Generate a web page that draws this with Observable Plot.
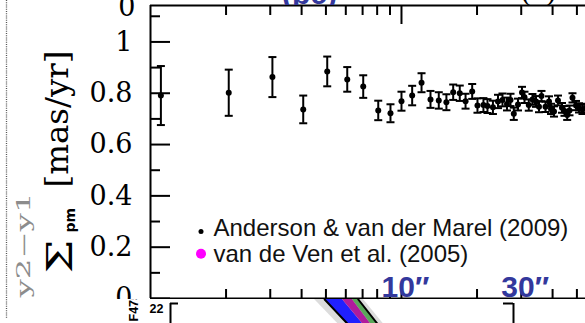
<!DOCTYPE html>
<html>
<head>
<meta charset="utf-8">
<script src="https://cdn.jsdelivr.net/npm/d3@7"></script>
<script src="https://cdn.jsdelivr.net/npm/@observablehq/plot@0.6"></script>
<style>
  html, body { margin: 0; padding: 0; background: #fff; }
  #wrap { position: relative; width: 585px; height: 323px; overflow: hidden; background: #fff; }
  #wrap svg { position: absolute; display: block; }
  .strip { position: absolute; left: 0; top: 0; width: 585px; height: 5px; overflow: hidden; }
  .strip span { position: absolute; white-space: pre; line-height: 30px; font-size: 30px; }
</style>
</head>
<body>
<div id="wrap"></div>
<script>
// Proper-motion dispersion profile, Anderson & van der Marel (2009)
// radius in arcsec, dispersion and 1-sigma error in mas/yr
const radius = [1.10, 2.05, 3.06, 4.06, 5.06, 6.08, 7.04, 8.08, 9.04, 10.0,
  11.03, 12.02, 13.05, 14.08, 15.1, 16.07, 17.07, 18.0, 19.13, 20.08,
  21.21, 22.01, 23.14, 24.24, 25.26, 26.33, 27.19, 28.02, 29.12, 30.21,
  30.91, 32.15, 33.26, 34.35, 35.31, 36.13, 37.48, 38.71, 39.42, 40.52,
  42.03, 43.60, 44.61, 45.73, 46.71, 48.01, 49.58, 50.96, 52.62, 54.09];
const sigma = [0.791, 0.802, 0.863, 0.737, 0.885, 0.854, 0.826, 0.733, 0.722, 0.769,
  0.791, 0.841, 0.776, 0.772, 0.765, 0.804, 0.800, 0.769, 0.807, 0.752,
  0.754, 0.750, 0.745, 0.768, 0.774, 0.758, 0.774, 0.720, 0.756, 0.803,
  0.784, 0.754, 0.776, 0.768, 0.747, 0.789, 0.747, 0.768, 0.739, 0.729,
  0.772, 0.743, 0.731, 0.715, 0.733, 0.782, 0.752, 0.743, 0.737, 0.741];
const sigmaErr = [0.115, 0.090, 0.078, 0.054, 0.058, 0.048, 0.044, 0.038, 0.035, 0.037,
  0.038, 0.037, 0.033, 0.032, 0.031, 0.030, 0.030, 0.029, 0.029, 0.028,
  0.027, 0.027, 0.026, 0.026, 0.025, 0.025, 0.024, 0.024, 0.023, 0.022,
  0.022, 0.022, 0.021, 0.021, 0.021, 0.020, 0.020, 0.020, 0.020, 0.020,
  0.019, 0.019, 0.019, 0.019, 0.019, 0.018, 0.018, 0.018, 0.018, 0.018];

// axes
const xDomain = [1, 54.1];
const yDomain = [0, 1.142];
const yMajorTicks = [0, 0.2, 0.4, 0.6, 0.8, 1];
const yTickLabels = ["0", "0.2", "0.4", "0.6", "0.8", "1"];
const yMinorTicks = [0.1, 0.3, 0.5, 0.7, 0.9, 1.1];
const xMinorTicks = [2, 3, 4, 5, 6, 7, 8, 9, 20, 30, 40, 50];
const xMajorTicks = [10];

// shell annotations along the radius axis
const shellRadii = [10, 30];
const shellLabels = ["10\u2033", "30\u2033"];

// legend
const legendLabels = ["Anderson & van der Marel (2009)", "van de Ven et al. (2005)"];
const legendColors = ["#000000", "#ff00ff"];
const legendRadii = [2.5, 5];

// colour-magnitude strip of the panel below
const cmdMag = [21.8, 23.0];
const cmdHaloBlue = [0.68, 0.95];
const cmdBlueEdge = [0.798, 1.061];
const cmdMagentaStart = [1.006, 1.239];
const cmdGreenStart = [1.122, 1.332];
const cmdRedEdge = [1.19, 1.411];
const cmdHaloRed = [1.25, 1.48];
const cmdTicks = [22];

const rows = radius.map((r, i) => ({r, s: sigma[i], e: sigmaErr[i]}));

const capSymbol = {
  draw(context, size) {
    const h = Math.sqrt(size / Math.PI);
    context.moveTo(-h, 0);
    context.lineTo(h, 0);
  }
};

const W = 585, H = 323;
const mL = 150, mR = 0, mT = 5, mB = 25;
const innerW = W - mL - mR, innerH = H - mT - mB;
const serif = "DejaVu Serif";
const sans = "Liberation Sans";
const ink = "#000";
const shellBlue = "#33389c";

const legendMarks = legendLabels.flatMap((label, i) => [
  Plot.dot([label], {frameAnchor: "bottom-left", dx: 50.5, dy: i === 0 ? -67 : -44.7,
    r: legendRadii[i], fill: legendColors[i], stroke: "none"}),
  Plot.text([label], {frameAnchor: "bottom-left", dx: 63, dy: i === 0 ? -62.3 : -37,
    text: d => d, textAnchor: "start", lineAnchor: "bottom",
    fontFamily: sans, fontSize: 24, fill: "#111"})
]);

const main = Plot.plot({
  width: W, height: H,
  marginLeft: mL, marginRight: mR, marginTop: mT, marginBottom: mB,
  x: {type: "log", domain: xDomain, axis: null},
  y: {domain: yDomain, axis: null},
  style: {background: "transparent"},
  marks: [
    // frame edges
    Plot.ruleX(xDomain.slice(0, 1), {stroke: ink, strokeWidth: 2}),
    Plot.ruleY(yDomain, {stroke: ink, strokeWidth: 2}),
    // inward ticks
    Plot.tickY(yMajorTicks, {y: d => d, insetRight: innerW - 20, stroke: ink, strokeWidth: 2}),
    Plot.tickY(yMinorTicks, {y: d => d, insetRight: innerW - 10, stroke: ink, strokeWidth: 2}),
    Plot.tickX(xMinorTicks, {x: d => d, insetBottom: innerH - 10, stroke: ink, strokeWidth: 2}),
    Plot.tickX(xMajorTicks, {x: d => d, insetBottom: innerH - 19, stroke: ink, strokeWidth: 2}),
    Plot.tickX(xMinorTicks.concat(xMajorTicks), {x: d => d, insetTop: innerH - 9, stroke: ink, strokeWidth: 2}),
    // tick labels
    Plot.text(yMajorTicks, {y: d => d, text: yTickLabels, frameAnchor: "left", dx: -18,
      textAnchor: "end", lineAnchor: "middle", fontFamily: serif, fontSize: 27, fill: ink}),
    Plot.text(["0"], {frameAnchor: "top-left", dx: -15, dy: 10, textAnchor: "end", lineAnchor: "bottom",
      fontFamily: serif, fontSize: 27, fill: ink}),
    // axis title
    Plot.text(["\u03A3"], {frameAnchor: "bottom-left", dx: -79, dy: -25, rotate: -90,
      textAnchor: "start", lineAnchor: "bottom", fontFamily: serif, fontSize: 36, fill: ink}),
    Plot.text(["pm"], {frameAnchor: "bottom-left", dx: -76, dy: -66, rotate: -90,
      textAnchor: "start", lineAnchor: "bottom", fontFamily: "DejaVu Sans", fontWeight: "bold",
      fontSize: 14, fill: ink}),
    Plot.text(["[mas/yr]"], {frameAnchor: "bottom-left", dx: -83, dy: -111, rotate: -90,
      textAnchor: "start", lineAnchor: "bottom", fontFamily: serif, fontSize: 32, fill: ink}),
    Plot.text(["y2\u2212y1"], {frameAnchor: "bottom-left", dx: -121, dy: -1, rotate: -90,
      textAnchor: "start", lineAnchor: "bottom", fontFamily: serif, fontSize: 18, fill: "#8c8c8c"}),
    Plot.ruleX(xDomain.slice(0, 1), {dx: -144, insetTop: -5, insetBottom: -20,
      stroke: "#555", strokeWidth: 1.3, strokeDasharray: "1 1.2"}),
    // data: error bars, caps, points
    Plot.ruleX(rows, {x: "r", y1: d => d.s - d.e, y2: d => d.s + d.e, stroke: ink, strokeWidth: 2}),
    Plot.dot(rows, {x: "r", y: d => d.s + d.e, symbol: capSymbol, r: 4, fill: "none", stroke: ink, strokeWidth: 2}),
    Plot.dot(rows, {x: "r", y: d => d.s - d.e, symbol: capSymbol, r: 4, fill: "none", stroke: ink, strokeWidth: 2}),
    Plot.dot(rows, {x: "r", y: "s", r: 3, fill: ink, stroke: "none"}),
    // legend
    ...legendMarks,
    // shell radii
    Plot.text(shellRadii, {x: d => d, text: shellLabels, frameAnchor: "bottom", dx: 4, dy: -1.3,
      textAnchor: "middle", lineAnchor: "bottom", fontFamily: sans, fontWeight: "bold",
      fontSize: 30, fill: shellBlue})
  ]
});
main.style.left = "0px";
main.style.top = "0px";

// stretch the narrow-set labels to their printed length
d3.select(main).selectAll("text").each(function () {
  const t = this.textContent;
  if (t === "y2\u2212y1") { this.setAttribute("textLength", 105); this.setAttribute("lengthAdjust", "spacingAndGlyphs"); }
  if (t === "[mas/yr]") { this.setAttribute("textLength", 137); this.setAttribute("lengthAdjust", "spacingAndGlyphs"); }
  if (t === "\u03A3") { this.setAttribute("textLength", 34); this.setAttribute("lengthAdjust", "spacingAndGlyphs"); }
});

// colour-magnitude strip below
const band = cmdMag.map((m, i) => ({
  mag: m, hb: cmdHaloBlue[i], be: cmdBlueEdge[i], ms: cmdMagentaStart[i],
  gs: cmdGreenStart[i], re: cmdRedEdge[i], hr: cmdHaloRed[i]
}));
const lW = 485, lL = 70, lR = 72;
const lowerInnerW = lW - lL - lR;
const lower = Plot.plot({
  width: lW, height: 24,
  marginLeft: lL, marginRight: lR, marginTop: 0, marginBottom: 0,
  x: {domain: [-1, 3], axis: null},
  y: {domain: cmdMag, reverse: true, axis: null},
  style: {background: "#fff"},
  marks: [
    Plot.areaX(band, {y: "mag", x1: "hb", x2: "hr", fill: "#8a8a8a", fillOpacity: 0.3}),
    Plot.areaX(band, {y: "mag", x1: "be", x2: "ms", fill: "#2020ff"}),
    Plot.areaX(band, {y: "mag", x1: "ms", x2: "gs", fill: "#b01c9c"}),
    Plot.areaX(band, {y: "mag", x1: "gs", x2: "re", fill: "#3a9a3a", fillOpacity: 0.8}),
    Plot.line(band, {x: "be", y: "mag", stroke: ink, strokeWidth: 2}),
    Plot.line(band, {x: "re", y: "mag", stroke: ink, strokeWidth: 2}),
    Plot.ruleX([-1, 3], {y1: cmdTicks[0], y2: cmdMag[1], stroke: ink, strokeWidth: 2}),
    Plot.tickY(cmdTicks, {y: d => d, insetRight: lowerInnerW - 8, stroke: ink, strokeWidth: 2}),
    Plot.tickY(cmdTicks, {y: d => d, insetLeft: lowerInnerW - 10, stroke: ink, strokeWidth: 2}),
    Plot.text(cmdTicks, {y: d => d, text: d => String(d), frameAnchor: "left", dx: -7, dy: 9,
      textAnchor: "end", lineAnchor: "bottom", fontFamily: sans, fontWeight: "bold", fontSize: 12.5, fill: ink}),
    Plot.text(["F475W"], {frameAnchor: "bottom-left", dx: -33, dy: -2, rotate: -90,
      textAnchor: "start", lineAnchor: "bottom", fontFamily: sans, fontWeight: "bold", fontSize: 12.5, fill: ink})
  ]
});
lower.style.left = "100px";
lower.style.top = "299px";

const wrap = document.getElementById("wrap");
wrap.appendChild(main);
wrap.appendChild(lower);

// labels of the panel above, cut by the top edge
const strip = document.createElement("div");
strip.className = "strip";
const upperUnit = document.createElement("span");
upperUnit.textContent = "(pc)";
upperUnit.style.cssText = `left:282px;top:-20.9px;font-family:${sans};font-weight:bold;color:${shellBlue};`;
const upperTag = document.createElement("span");
upperTag.textContent = "(b)";
upperTag.style.cssText = "left:521px;top:-25px;font-family:'Liberation Serif';color:#000;";
strip.appendChild(upperUnit);
strip.appendChild(upperTag);
wrap.appendChild(strip);
</script>
</body>
</html>
